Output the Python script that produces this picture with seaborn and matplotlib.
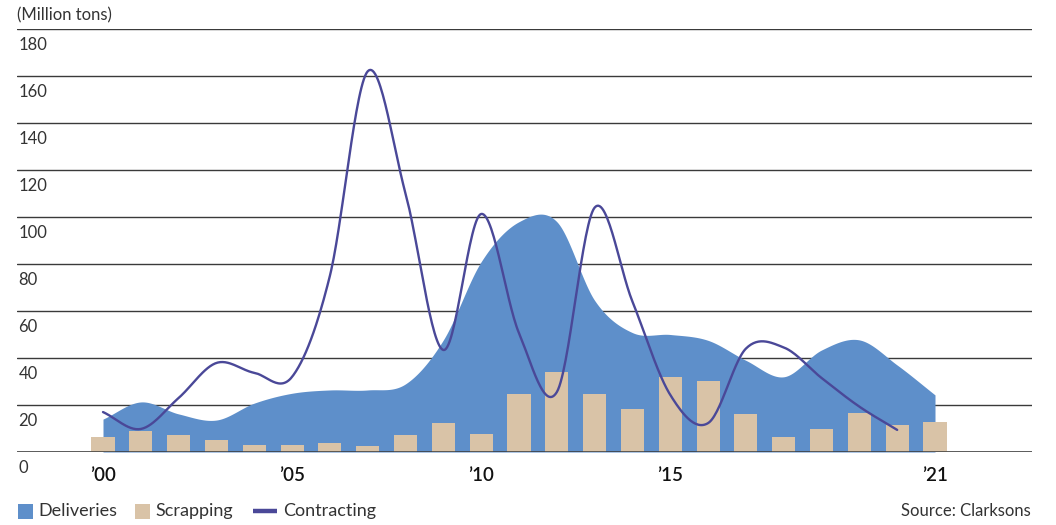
import numpy as np
import pandas as pd
import matplotlib
matplotlib.use("Agg")
import matplotlib.pyplot as plt
import seaborn as sns
from matplotlib.patches import Rectangle
from matplotlib.lines import Line2D

# Annual figures, million tons (one entry per year slot on the x axis)
deliveries = [14.0, 21.3, 16.2, 13.6, 20.8, 25.0, 26.4, 26.4, 29.0, 47.7, 81.0,
              98.0, 98.0, 64.5, 50.8, 50.0, 47.5, 39.0, 32.0, 43.4, 47.7, 37.0, 24.3]
scrapping = [6.5, 8.9, 7.2, 5.1, 3.0, 3.0, 3.8, 2.5, 7.2, 12.3, 7.7,
             24.7, 34.0, 24.7, 18.3, 31.9, 30.2, 16.2, 6.4, 9.8, 16.6, 11.5, 12.8]
contracting = [17.0, 9.8, 23.0, 37.9, 33.7, 32.0, 75.0, 162.0, 110.0, 43.4, 101.3,
               50.6, 25.5, 104.0, 64.0, 24.3, 12.3, 44.0, 44.5, 31.5, 19.3, 9.4]

tick_pos = [0, 5, 10, 15, 22]
tick_labels = ["\u201900", "\u201905", "\u201910", "\u201915", "\u201921"]
y_ticks = list(range(0, 181, 20))

series_names = ["Deliveries", "Scrapping", "Contracting"]
C_DEL = "#5E8FCA"
C_SCR = "#D9C3A7"
C_CON = "#4A4898"
C_GRID = "#3A3A3A"
C_TEXT = "#333333"


def catmull_rom(values, samples=30):
    """Smooth curve through every value (uniform Catmull-Rom spline)."""
    v = np.asarray(values, float)
    p = np.concatenate([[2 * v[0] - v[1]], v, [2 * v[-1] - v[-2]]])
    xs, ys = [], []
    t = np.linspace(0, 1, samples, endpoint=False)
    h00 = 2 * t**3 - 3 * t**2 + 1
    h10 = t**3 - 2 * t**2 + t
    h01 = -2 * t**3 + 3 * t**2
    h11 = t**3 - t**2
    for i in range(len(v) - 1):
        p0, p1, p2, p3 = p[i], p[i + 1], p[i + 2], p[i + 3]
        m1 = (p2 - p0) / 2
        m2 = (p3 - p1) / 2
        ys.append(h00 * p1 + h10 * m1 + h01 * p2 + h11 * m2)
        xs.append(i + t)
    xs.append([len(v) - 1])
    ys.append([v[-1]])
    return np.concatenate(xs), np.concatenate(ys)


sns.set_style("white")
plt.rcParams["font.family"] = ["Lato", "DejaVu Sans"]

W, H = 1056, 525
fig = plt.figure(figsize=(W / 100, H / 100), dpi=100)
ax = fig.add_axes([17 / W, (H - 452) / H, (1032 - 17) / W, (452 - 29) / H])

# Deliveries: smooth filled area
dx, dy = catmull_rom(deliveries)
ax.fill_between(dx, 0, np.clip(dy, 0, None), color=C_DEL, lw=0, zorder=1)

# Scrapping: bars
bars = pd.DataFrame({"slot": np.arange(len(scrapping)), "value": scrapping})
sns.barplot(data=bars, x="slot", y="value", color=C_SCR, saturation=1,
            width=0.61, ax=ax, zorder=2, linewidth=0)

# Contracting: smooth line
cx, cy = catmull_rom(contracting)
line_df = pd.DataFrame({"x": cx, "y": cy})
sns.lineplot(data=line_df, x="x", y="y", estimator=None, sort=False,
             color=C_CON, lw=1.7, ax=ax, zorder=3)

ax.axhline(0, color=C_GRID, lw=1.1, zorder=2.5)

px_per_slot = (935 - 103) / 22
ax.set_xlim(-(103 - 17) / px_per_slot, (1032 - 103) / px_per_slot)
ax.set_ylim(0, 180)
ax.set_yticks(y_ticks)
ax.yaxis.grid(True, color=C_GRID, lw=1.0)
ax.xaxis.grid(False)
ax.set_axisbelow(True)
for s in ax.spines.values():
    s.set_visible(False)
ax.tick_params(axis="y", length=0, labelleft=False)
ax.set_xticks(tick_pos, tick_labels)
ax.tick_params(axis="x", length=0, pad=11, labelsize=13.5, labelcolor="#111111")
for lab in ax.get_xticklabels():
    lab.set_fontweight("semibold")
ax.set_xlabel("")
ax.set_ylabel("")

# y labels sit just under their gridlines
for v in y_ticks:
    ax.annotate(str(v), xy=(0, v), xycoords=("axes fraction", "data"),
                xytext=(1, -6), textcoords="offset points",
                ha="left", va="top", fontsize=12, color=C_TEXT,
                annotation_clip=False)

fig.text(17 / W, 1 - 15 / H, "(Million tons)", ha="left", va="center",
         fontsize=12, color=C_TEXT)

# Legend row
ly = 1 - 511 / H
sq_w, sq_h = 15 / W, 15 / H
fig.add_artist(Rectangle((18 / W, ly - sq_h / 2), sq_w, sq_h,
                         transform=fig.transFigure, color=C_DEL, lw=0))
fig.text(38 / W, ly, series_names[0], ha="left", va="center",
         fontsize=13, color=C_TEXT)
fig.add_artist(Rectangle((135 / W, ly - sq_h / 2), sq_w, sq_h,
                         transform=fig.transFigure, color=C_SCR, lw=0))
fig.text(155 / W, ly, series_names[1], ha="left", va="center",
         fontsize=13, color=C_TEXT)
fig.add_artist(Line2D([253 / W, 277 / W], [ly, ly], transform=fig.transFigure,
                      color=C_CON, lw=3.2, solid_capstyle="butt"))
fig.text(283 / W, ly, series_names[2], ha="left", va="center",
         fontsize=13, color=C_TEXT)
fig.text(1031 / W, ly, "Source: Clarksons", ha="right", va="center",
         fontsize=12, color=C_TEXT)

fig.savefig("out.png", dpi=100)
